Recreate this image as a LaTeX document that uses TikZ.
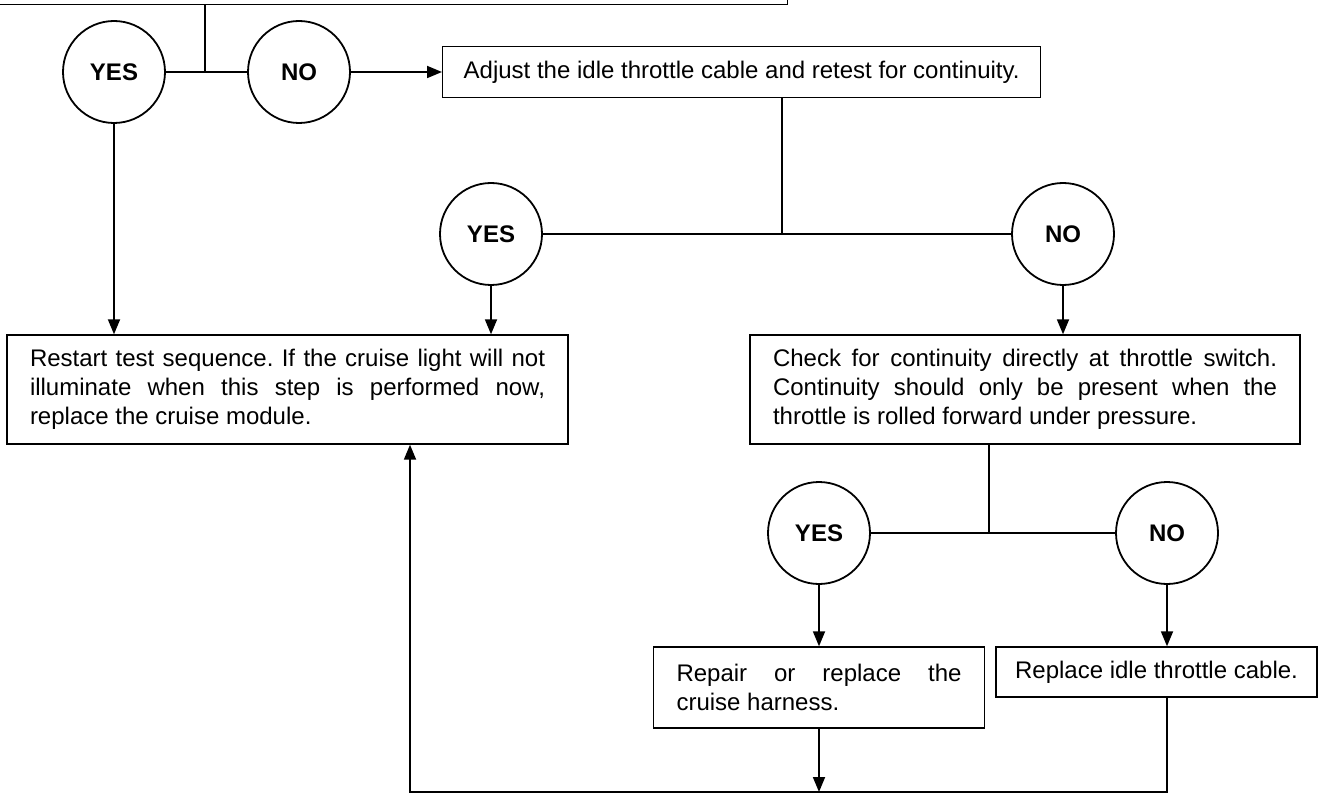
\documentclass[tikz,border=0pt]{standalone}
\usepackage{fontspec}
\setmainfont{Liberation Sans}
\usetikzlibrary{arrows.meta,positioning,calc}
\hyphenpenalty=10000
\exhyphenpenalty=10000
\tolerance=10000
\frenchspacing

\begin{document}
\begin{tikzpicture}[x=1pt,y=-1pt,
	font=\fontsize{24}{29}\selectfont,
	box/.style={draw,line width=1.4pt,rectangle,inner xsep=21pt,inner ysep=0pt},
	answer/.style={draw,line width=1.8pt,circle,minimum size=102pt,inner sep=0pt,font=\fontsize{24}{29}\selectfont\bfseries},
	link/.style={line width=1.8pt},
	arr/.style={link,-{Triangle[length=15pt,width=12pt]}}]
	\useasboundingbox (0,0) rectangle (1333,794);
	\clip (0,0) rectangle (1333,794);

	% previous step, only its lower edge shows
	\node[box,anchor=south east,minimum width=820pt,minimum height=60pt] (prev) at (788,5) {};

	% first answer
	\node[answer] (yesA) at (114,72) {YES};
	\node[answer] (noA) at (299,72) {NO};
	\coordinate (splitA) at (205,72);
	\draw[link] (yesA) -- (noA);
	\draw[link] (splitA) -- (splitA |- prev.south);

	\node[box,anchor=west,minimum height=51pt] (adjust) at (442,72) {Adjust the idle throttle cable and retest for continuity.};
	\draw[arr] (noA) -- (adjust);

	% second answer
	\node[answer] (yesB) at (491,234) {YES};
	\node[answer] (noB) at (1063,234) {NO};
	\coordinate (splitB) at (782,234);
	\draw[link] (yesB) -- (noB);
	\draw[link] (adjust.south -| splitB) -- (splitB);

	\node[box,text width=515pt,align=justify,minimum height=109pt,inner xsep=23pt] (restart) at (287.5,389.5)
		{Restart test sequence. If the cruise light will not\linebreak illuminate when this step is performed now, replace the cruise module.};
	\node[box,text width=504pt,align=justify,minimum height=109pt,inner xsep=23pt] (check) at (1025,389.5)
		{Check for continuity directly at throttle switch. Continuity should only be present when the throttle is rolled forward under pressure.};

	\draw[arr] (yesA) -- (yesA |- restart.north);
	\draw[arr] (yesB) -- (yesB |- restart.north);
	\draw[arr] (noB) -- (noB |- check.north);

	% third answer
	\node[answer] (yesC) at (819,533) {YES};
	\node[answer] (noC) at (1167,533) {NO};
	\coordinate (splitC) at (989,533);
	\draw[link] (yesC) -- (noC);
	\draw[link] (check.south -| splitC) -- (splitC);

	\node[box,text width=285pt,align=justify,minimum height=81pt,inner xsep=23pt] (repair) at (819,687.5)
		{Repair or replace the cruise harness.};
	\node[box,minimum width=315pt,minimum height=50pt,inner xsep=19pt] (replace) at (1156.5,672)
		{Replace idle throttle cable.};

	\draw[arr] (yesC) -- (yesC |- repair.north);
	\draw[arr] (noC) -- (noC |- replace.north);

	% back to the restart box
	\coordinate (loop) at (410,792);
	\draw[arr] (repair.south) -- (repair.south |- loop);
	\draw[arr] (noC |- replace.south) |- (loop) -- (loop |- restart.south);
\end{tikzpicture}
\end{document}
